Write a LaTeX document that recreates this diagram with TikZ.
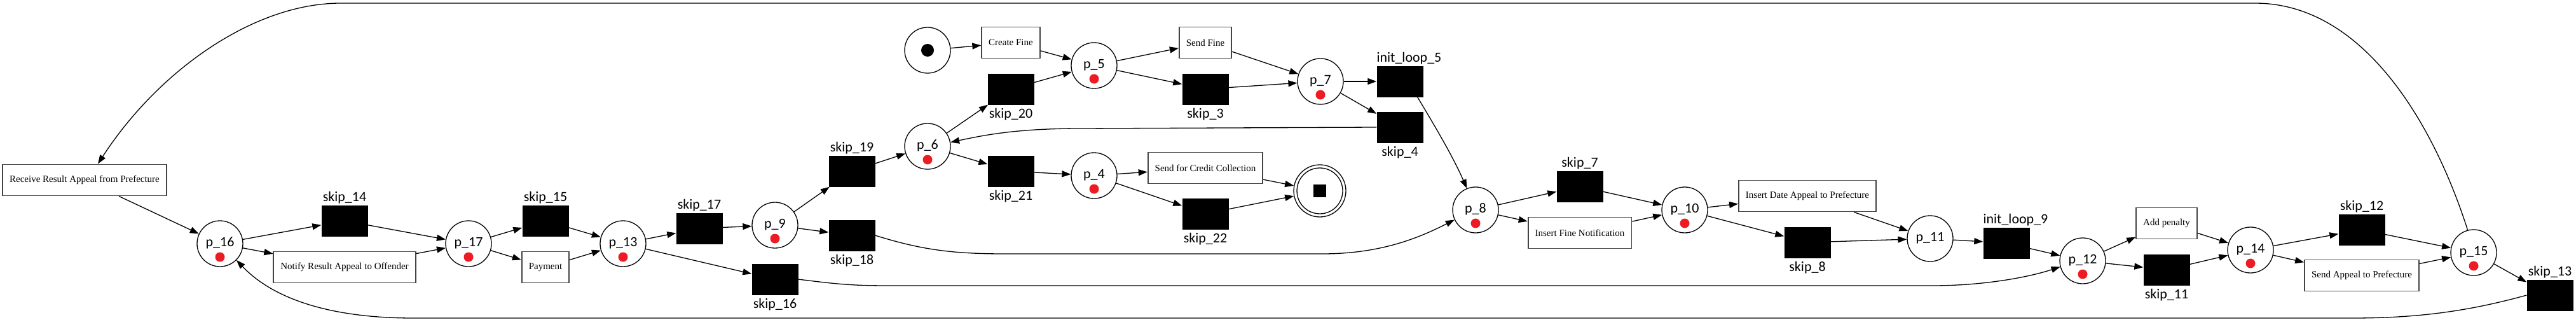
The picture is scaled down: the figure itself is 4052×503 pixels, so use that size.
\documentclass[tikz,border=0pt]{standalone}
\usepackage{fontspec}
\setmainfont{Liberation Serif}
\newfontfamily\lblfont{Carlito}
\usetikzlibrary{arrows.meta,calc}
\definecolor{tokred}{RGB}{237,28,36}
\definecolor{boxgray}{RGB}{68,68,68}
\tikzset{
 place/.style={circle, draw, line width=1.3pt, minimum size=72pt, inner sep=0pt},
 trans/.style={rectangle, draw=boxgray, line width=1.8pt, minimum height=49pt, inner xsep=11pt, inner ysep=0pt, font=\fontsize{15}{18}\selectfont},
 silent/.style={rectangle, fill=black, minimum width=73pt, minimum height=49pt, inner sep=0pt},
 plabel/.style={font=\lblfont\fontsize{22}{26}\selectfont, inner sep=0pt},
 tok/.style={circle, fill=tokred, minimum size=15pt, inner sep=0pt},
 arc/.style={-{Triangle[length=14pt,width=10pt]}, line width=1.3pt},
}
\newcommand\Place[4]{%
 \node[place] (#1) at (#2,#3) {};
 \node[plabel] (#1-l) at (#2,#3-1) {#4};
 \node[tok] (#1-t) at (#2,#3+21) {};
}
\newcommand\SilA[4]{%
 \node[silent] (#1) at (#2,#3) {};
 \node[plabel, anchor=south] (#1-l) at ($(#1.north)+(0,-2)$) {#4};
}
\newcommand\SilB[4]{%
 \node[silent] (#1) at (#2,#3) {};
 \node[plabel, anchor=north] (#1-l) at ($(#1.south)+(0,5)$) {#4};
}
\newcommand\SilL[4]{%
 \node[silent] (#1) at (#2,#3) {};
 \node[plabel, anchor=south west] (#1-l) at ($(#1.north west)+(0,-2)$) {#4};
}
\begin{document}
\begin{tikzpicture}[x=1pt,y=-1pt]
\useasboundingbox (0,0) rectangle (4052,503);
% places
\node[place] (start) at (1459,79) {};
\node[circle, fill=black, minimum size=20pt, inner sep=0pt] (start-t) at (1459,79) {};
\node[circle, draw, line width=1.3pt, minimum size=82pt, inner sep=0pt] (end) at (2076,300) {};
\node[circle, draw, line width=1.3pt, minimum size=72pt, inner sep=0pt] (end-i) at (2076,300) {};
\node[rectangle, fill=black, minimum size=20pt, inner sep=0pt] (end-t) at (2076,300) {};
\Place{p5}{1721}{103}{p\_5}
\Place{p7}{2077}{128}{p\_7}
\Place{p6}{1459}{230}{p\_6}
\Place{p4}{1721}{276}{p\_4}
\Place{p9}{1219}{354}{p\_9}
\Place{p13}{980}{383}{p\_13}
\Place{p17}{737}{383}{p\_17}
\Place{p16}{346}{383}{p\_16}
\Place{p8}{2321}{330}{p\_8}
\Place{p10}{2650}{330}{p\_10}
\node[place] (p11) at (3036,375) {};
\node[plabel] (p11-l) at (3036,374) {p\_11};
\Place{p12}{3276}{410}{p\_12}
\Place{p14}{3540}{393}{p\_14}
\Place{p15}{3891}{397}{p\_15}
% labelled transitions
\node[trans] (receive) at (133,283) {Receive Result Appeal from Prefecture};
\node[trans] (notify) at (542,420) {Notify Result Appeal to Offender};
\node[trans] (payment) at (858,420) {Payment};
\node[trans] (create) at (1590,67) {Create Fine};
\node[trans] (sendfine) at (1896,67) {Send Fine};
\node[trans] (credit) at (1896,264) {Send for Credit Collection};
\node[trans] (insfine) at (2485,366) {Insert Fine Notification};
\node[trans] (insdate) at (2843,308) {Insert Date Appeal to Prefecture};
\node[trans] (addpen) at (3408,351) {Add penalty};
\node[trans] (sendapp) at (3715,433) {Send Appeal to Prefecture};
% silent transitions
\SilA{skip14}{542}{347}{skip\_14}
\SilA{skip15}{858}{347}{skip\_15}
\SilA{skip17}{1100}{359}{skip\_17}
\SilB{skip16}{1219}{439}{skip\_16}
\SilA{skip19}{1340}{269}{skip\_19}
\SilB{skip18}{1340}{370}{skip\_18}
\SilB{skip20}{1590}{140}{skip\_20}
\SilB{skip21}{1590}{269}{skip\_21}
\SilB{skip3}{1896}{140}{skip\_3}
\SilB{skip22}{1896}{336}{skip\_22}
\SilL{loop5}{2202}{128}{init\_loop\_5}
\SilB{skip4}{2202}{200}{skip\_4}
\SilA{skip7}{2485}{293}{skip\_7}
\SilB{skip8}{2843}{381}{skip\_8}
\SilL{loop9}{3156}{382}{init\_loop\_9}
\SilB{skip11}{3408}{424}{skip\_11}
\SilA{skip12}{3715}{361}{skip\_12}
\SilA{skip13}{4011}{464}{skip\_13}
% straight arcs
\draw[arc] (start) -- (create);
\draw[arc] (create) -- (p5);
\draw[arc] (skip20) -- (p5);
\draw[arc] (p5) -- (sendfine);
\draw[arc] (p5) -- (skip3);
\draw[arc] (sendfine) -- (p7);
\draw[arc] (skip3) -- (p7);
\draw[arc] (p7) -- (loop5);
\draw[arc] (p7) -- (skip4);
\draw[arc] (p6) -- (skip20);
\draw[arc] (p6) -- (skip21);
\draw[arc] (skip21) -- (p4);
\draw[arc] (p4) -- (credit);
\draw[arc] (p4) -- (skip22);
\draw[arc] (credit) -- (end);
\draw[arc] (skip22) -- (end);
\draw[arc] (skip19) -- (p6);
\draw[arc] (p9) -- (skip19);
\draw[arc] (p9) -- (skip18);
\draw[arc] (skip17) -- (p9);
\draw[arc] (p13) -- (skip17);
\draw[arc] (p13) -- (skip16);
\draw[arc] (p17) -- (skip15);
\draw[arc] (p17) -- (payment);
\draw[arc] (skip15) -- (p13);
\draw[arc] (payment) -- (p13);
\draw[arc] (p16) -- (skip14);
\draw[arc] (p16) -- (notify);
\draw[arc] (skip14) -- (p17);
\draw[arc] (notify) -- (p17);
\draw[arc] (receive) -- (p16);
\draw[arc] (p15) -- (skip13);
\draw[arc] (p8) -- (skip7);
\draw[arc] (p8) -- (insfine);
\draw[arc] (skip7) -- (p10);
\draw[arc] (insfine) -- (p10);
\draw[arc] (p10) -- (insdate);
\draw[arc] (p10) -- (skip8);
\draw[arc] (insdate) -- (p11);
\draw[arc] (skip8) -- (p11);
\draw[arc] (p11) -- (loop9);
\draw[arc] (loop9) -- (p12);
\draw[arc] (p12) -- (addpen);
\draw[arc] (p12) -- (skip11);
\draw[arc] (addpen) -- (p14);
\draw[arc] (skip11) -- (p14);
\draw[arc] (p14) -- (skip12);
\draw[arc] (p14) -- (sendapp);
\draw[arc] (skip12) -- (p15);
\draw[arc] (sendapp) -- (p15);
% curved arcs
\draw[arc] (loop5.south east) ++(-9,0) .. controls (2255,195) and (2285,245) .. (p8.112);
\draw[arc] (skip4.west) -- (1700,202) .. controls (1600,202) and (1550,212) .. (p6.10);
\draw[arc] (skip18.east) .. controls (1450,393) and (1500,399) .. (1580,399) -- (2080,399) .. controls (2170,399) and (2230,375) .. (p8.-155);
\draw[arc] (skip16.east) .. controls (1320,447) and (1340,449) .. (1400,449) -- (3040,449) .. controls (3120,449) and (3190,436) .. (p12.-165);
\draw[arc] (p15.105) .. controls (3830,200) and (3720,5) .. (3547,5) -- (536,5) .. controls (400,5) and (250,110) .. ([xshift=21pt]receive.north);
\draw[arc] (skip13.west) .. controls (3880,490) and (3800,500) .. (3700,500) -- (650,500) .. controls (520,500) and (430,470) .. (p16.-45);
\end{tikzpicture}
\end{document}
